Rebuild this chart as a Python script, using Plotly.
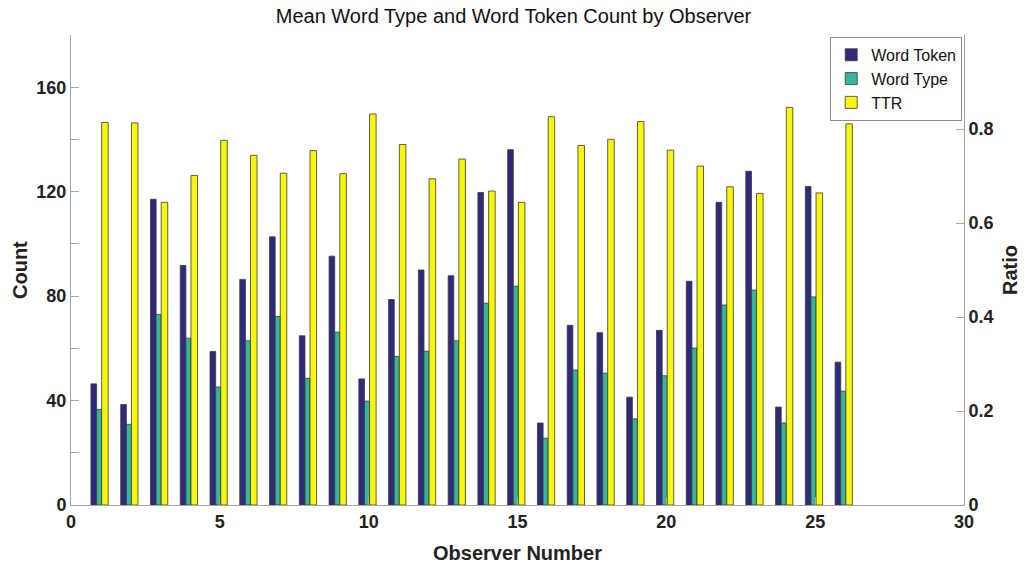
import plotly.graph_objects as go

# Observer numbers and per-observer means
observers = list(range(1, 27))
word_token = [46.4, 38.5, 117.1, 91.7, 58.8, 86.4, 102.7, 64.8, 95.3, 48.3,
              78.7, 90.0, 87.8, 119.7, 136.1, 31.4, 68.8, 66.0, 41.3, 66.9,
              85.7, 115.9, 127.8, 37.5, 122.0, 54.7]
word_type = [36.6, 30.9, 73.0, 63.9, 45.2, 62.9, 72.2, 48.5, 66.2, 39.8,
             56.9, 58.9, 62.9, 77.3, 83.8, 25.6, 51.7, 50.5, 33.0, 49.5,
             60.1, 76.6, 82.3, 31.4, 79.7, 43.6]
ttr = [0.814, 0.813, 0.644, 0.701, 0.776, 0.744, 0.706, 0.754, 0.705, 0.832,
       0.767, 0.694, 0.736, 0.668, 0.644, 0.826, 0.765, 0.778, 0.816, 0.755,
       0.721, 0.677, 0.663, 0.846, 0.664, 0.811]

count_ticks = [0, 40, 80, 120, 160]
ratio_ticks = [0, 0.2, 0.4, 0.6, 0.8]
x_ticks = [0, 5, 10, 15, 20, 25, 30]

FONT = "Liberation Sans, Arial, Helvetica, sans-serif"
AXIS_GRAY = "#a6a6a6"
EDGE = dict(color="#3a3a3a", width=0.8)
TITLE_FONT = dict(size=20, family=FONT, color="#222222")

fig = go.Figure()
fig.add_trace(go.Bar(x=observers, y=word_token, name="Word Token",
                     marker=dict(color="#2e2a7c", line=EDGE),
                     offset=-0.33, width=0.19, yaxis="y"))
fig.add_trace(go.Bar(x=observers, y=word_type, name="Word Type",
                     marker=dict(color="#36b59b", line=EDGE),
                     offset=-0.14, width=0.17, yaxis="y"))
fig.add_trace(go.Bar(x=observers, y=ttr, name="TTR",
                     marker=dict(color="#f7f70c", line=EDGE),
                     offset=0.03, width=0.22, yaxis="y2"))

# Axis titles placed as paper-anchored annotations
fig.add_annotation(text="<b>Observer Number</b>", xref="paper", yref="paper",
                   x=0.5, y=0, yshift=-48, xanchor="center", yanchor="middle",
                   showarrow=False, font=TITLE_FONT)
fig.add_annotation(text="<b>Count</b>", xref="paper", yref="paper",
                   x=0, xshift=-51, y=0.5, xanchor="center", yanchor="middle",
                   textangle=-90, showarrow=False, font=TITLE_FONT)
fig.add_annotation(text="<b>Ratio</b>", xref="paper", yref="paper",
                   x=1, xshift=46, y=0.5, xanchor="center", yanchor="middle",
                   textangle=-90, showarrow=False, font=TITLE_FONT)

fig.update_layout(
    width=1027, height=566,
    margin=dict(l=71, r=63, t=35, b=61),
    paper_bgcolor="white", plot_bgcolor="white",
    barmode="overlay",
    font=dict(family=FONT, color="#222222"),
    title=dict(text="Mean Word Type and Word Token Count by Observer",
               x=0.5, xanchor="center", y=0.972, yanchor="middle",
               font=dict(size=20, color="#111111")),
    xaxis=dict(range=[0, 30], tickvals=x_ticks, ticks="inside", ticklen=8,
               tickcolor=AXIS_GRAY, showline=True, linecolor=AXIS_GRAY,
               linewidth=1, showgrid=False, zeroline=False, automargin=False,
               tickfont=dict(size=18, family=FONT, color="#222222", weight="bold")),
    yaxis=dict(range=[0, 180], tickvals=count_ticks, ticks="inside", ticklen=8,
               tickcolor=AXIS_GRAY, showline=True, linecolor=AXIS_GRAY,
               linewidth=1, showgrid=False, zeroline=False, automargin=False,
               minor=dict(dtick=20, tick0=0, ticks="inside", ticklen=8,
                          tickcolor=AXIS_GRAY, showgrid=False),
               tickfont=dict(size=18, family=FONT, color="#222222", weight="bold")),
    yaxis2=dict(range=[0, 1], tickvals=ratio_ticks,
                ticktext=["0", "0.2", "0.4", "0.6", "0.8"],
                overlaying="y", side="right", anchor="x",
                ticks="inside", ticklen=8, tickcolor=AXIS_GRAY,
                showline=True, linecolor=AXIS_GRAY, linewidth=1,
                showgrid=False, zeroline=False, automargin=False,
                tickfont=dict(size=18, family=FONT, color="#222222", weight="bold")),
    legend=dict(x=0.998, xanchor="right", y=0.996, yanchor="top",
                bgcolor="white", bordercolor="#8c8c8c", borderwidth=1,
                font=dict(size=16, family=FONT, color="#111111"),
                itemwidth=30, traceorder="normal"),
)

fig.write_html("out.html")
